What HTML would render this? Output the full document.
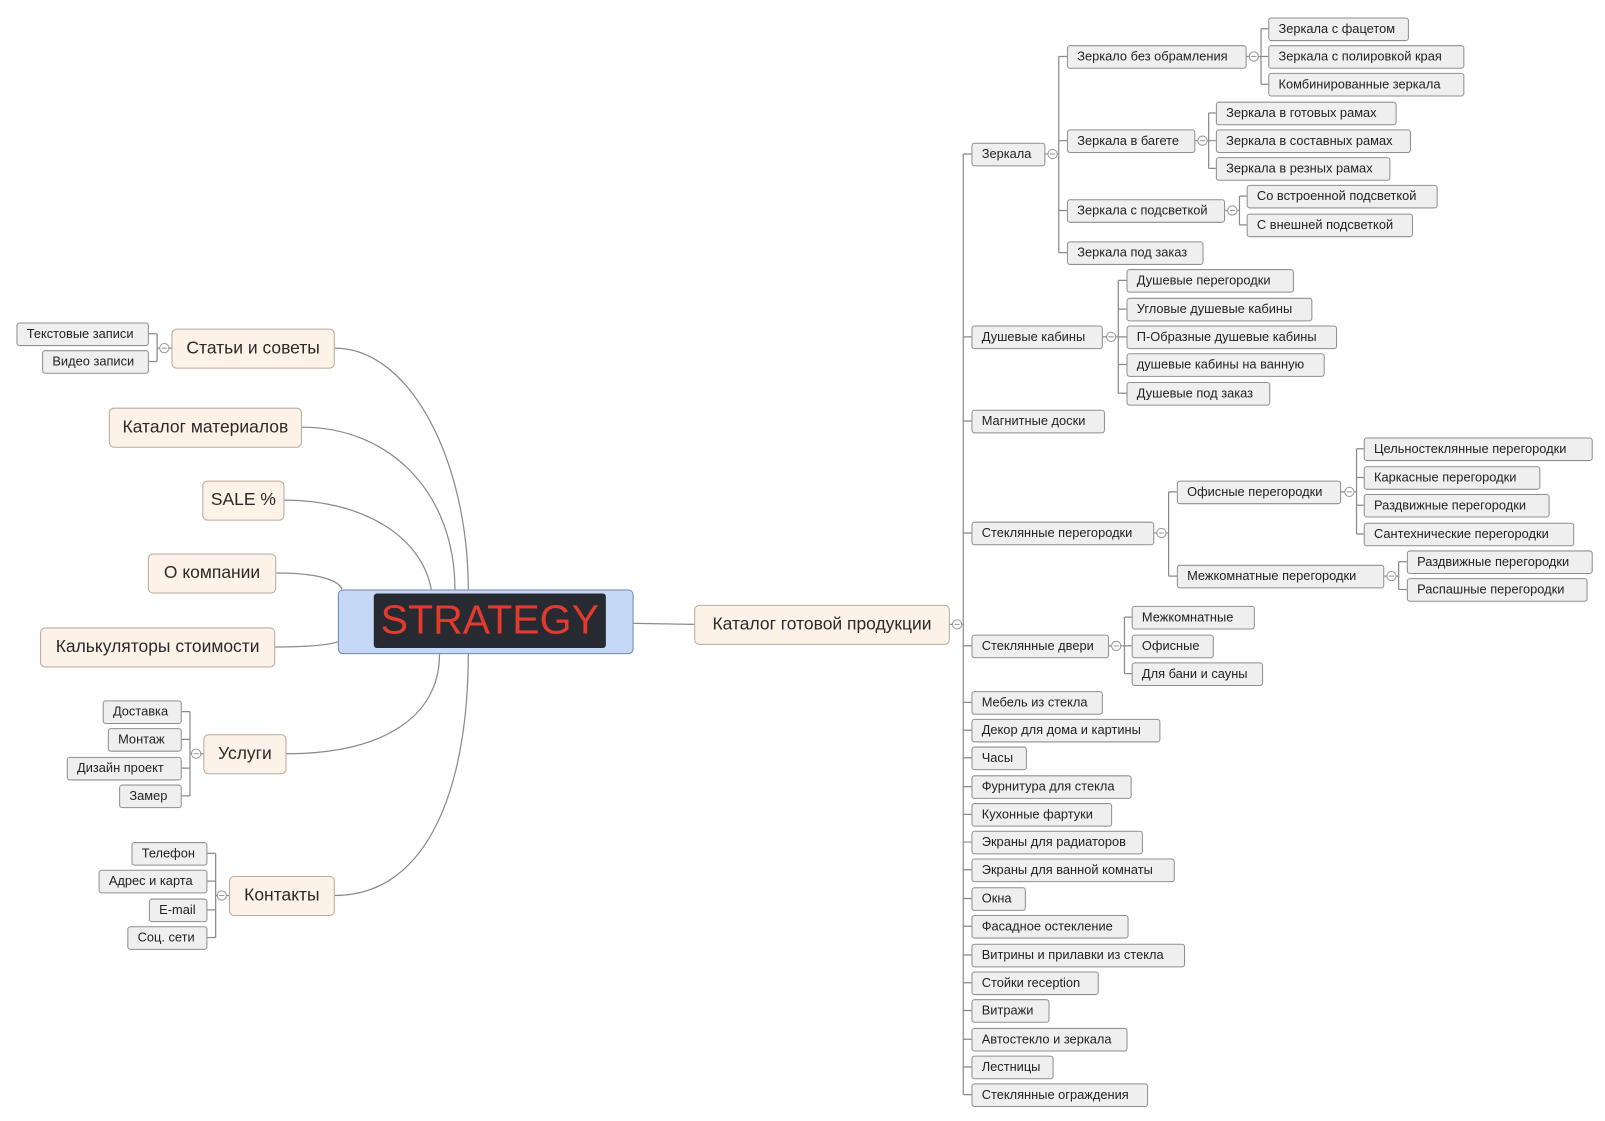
<!DOCTYPE html>
<html><head><meta charset="utf-8"><style>
body{margin:0;width:1605px;height:1121px;background:#fff;position:relative;overflow:hidden;font-family:"Liberation Sans",sans-serif}
#w{position:absolute;left:0;top:0;width:1563px;height:1092px;transform:scale(1.0269);transform-origin:0 0}
.n{position:absolute;height:23px;line-height:21px;box-sizing:border-box;border:1px solid #8f8f8f;border-radius:3px;background:#efefef;font-size:12.5px;padding-left:9px;white-space:nowrap;color:#222}
.m{position:absolute;box-sizing:border-box;background:#fdf2e8;border:1px solid #b9aa9b;border-radius:5px;font-size:17px;text-align:center;line-height:36px;height:39px;color:#2a2a2a;white-space:nowrap}
svg{position:absolute;left:0;top:0}
</style></head><body><div id="w">
<svg width="1563" height="1092" fill="none" stroke="#8a8a8a" stroke-width="1.2">
<path d="M326 339 C400 339 456 450 456 574"/>
<path d="M294 416 C380 416 443 480 443 574"/>
<path d="M277 487 C350 487 410 520 420 574"/>
<path d="M269 558 C310 558 330 565 333 574"/>
<path d="M268 630 C300 630 320 628 329 625"/>
<path d="M279 734 C370 734 428 700 428 637"/>
<path d="M326 872 C420 872 456 760 456 637"/>
<path d="M617 607 L676 608"/>
<path d="M925 608 H938 M938 150 V1066"/>
<path d="M938 150H946M938 328H946M938 410H946M938 519H946M938 629H946M938 684H946M938 711H946M938 738H946M938 766H946M938 793H946M938 820H946M938 847H946M938 875H946M938 902H946M938 930H946M938 957H946M938 984H946M938 1012H946M938 1039H946M938 1066H946"/>
<path d="M1018 150H1031M1031 55V246M1031 55H1039M1031 137H1039M1031 205H1039M1031 246H1039"/>
<path d="M1214 55H1228M1228 28V82M1228 28H1235M1228 55H1235M1228 82H1235"/>
<path d="M1164 137H1177M1177 110V164M1177 110H1184M1177 137H1184M1177 164H1184"/>
<path d="M1193 205H1207M1207 191V219M1207 191H1214M1207 219H1214"/>
<path d="M1074 328H1089M1089 273V383M1089 273H1097M1089 301H1097M1089 328H1097M1089 355H1097M1089 383H1097"/>
<path d="M1124 519H1138M1138 479V561M1138 479H1146M1138 561H1146"/>
<path d="M1306 479H1321M1321 437V520M1321 437H1328M1321 465H1328M1321 492H1328M1321 520H1328"/>
<path d="M1348 561H1362M1362 547V574M1362 547H1370M1362 574H1370"/>
<path d="M1080 629H1095M1095 601V656M1095 601H1102M1095 629H1102M1095 656H1102"/>
<path d="M167 339H153M153 325V352M153 325H145M153 352H145"/>
<path d="M198 734H185M185 693V775M185 693H177M185 720H177M185 748H177M185 775H177"/>
<path d="M223 872H210M210 831V913M210 831H202M210 858H202M210 886H202M210 913H202"/>
</svg>
<svg width="1563" height="1092" fill="#fff" stroke="#999" stroke-width="1">
<g>
<circle cx="932" cy="608" r="4.5"/><circle cx="1025" cy="150" r="4.5"/><circle cx="1221" cy="55" r="4.5"/><circle cx="1171" cy="137" r="4.5"/><circle cx="1200" cy="205" r="4.5"/><circle cx="1082" cy="328" r="4.5"/><circle cx="1131" cy="519" r="4.5"/><circle cx="1314" cy="479" r="4.5"/><circle cx="1355" cy="561" r="4.5"/><circle cx="1087" cy="629" r="4.5"/><circle cx="160" cy="339" r="4.5"/><circle cx="191" cy="734" r="4.5"/><circle cx="216" cy="872" r="4.5"/>
</g>
<path stroke="#999" d="M929.5 608h5M1022.5 150h5M1218.5 55h5M1168.5 137h5M1197.5 205h5M1079.5 328h5M1128.5 519h5M1311.5 479h5M1352.5 561h5M1084.5 629h5M157.5 339h5M188.5 734h5M213.5 872h5"/>
</svg>

<div style="position:absolute;left:329px;top:574px;width:288px;height:63px;box-sizing:border-box;background:#c5d8f6;border:1px solid #6d86b8;border-radius:5px"></div>
<div style="position:absolute;left:364px;top:578px;width:226px;height:53px;background:#272a31;border-radius:3px;color:#e23b2e;font-size:40px;line-height:53px;text-align:center">STRATEGY</div>

<div class="m" style="left:676px;top:589px;width:249px">Каталог готовой продукции</div>
<div class="m" style="left:167px;top:320px;width:159px">Статьи и советы</div>
<div class="m" style="left:106px;top:397px;width:188px">Каталог материалов</div>
<div class="m" style="left:197px;top:468px;width:80px">SALE %</div>
<div class="m" style="left:144px;top:539px;width:125px">О компании</div>
<div class="m" style="left:39px;top:611px;width:229px">Калькуляторы стоимости</div>
<div class="m" style="left:198px;top:715px;width:81px">Услуги</div>
<div class="m" style="left:223px;top:853px;width:103px">Контакты</div>

<div class="n" style="left:16px;top:314px;width:129px">Текстовые записи</div>
<div class="n" style="left:41px;top:341px;width:104px">Видео записи</div>
<div class="n" style="left:100px;top:682px;width:77px">Доставка</div>
<div class="n" style="left:105px;top:709px;width:72px">Монтаж</div>
<div class="n" style="left:65px;top:737px;width:112px">Дизайн проект</div>
<div class="n" style="left:116px;top:764px;width:61px">Замер</div>
<div class="n" style="left:128px;top:820px;width:74px">Телефон</div>
<div class="n" style="left:96px;top:847px;width:106px">Адрес и карта</div>
<div class="n" style="left:145px;top:875px;width:57px">E-mail</div>
<div class="n" style="left:124px;top:902px;width:78px">Соц. сети</div>

<div class="n" style="left:946px;top:139px;width:72px">Зеркала</div>
<div class="n" style="left:946px;top:317px;width:128px">Душевые кабины</div>
<div class="n" style="left:946px;top:399px;width:130px">Магнитные доски</div>
<div class="n" style="left:946px;top:508px;width:178px">Стеклянные перегородки</div>
<div class="n" style="left:946px;top:618px;width:134px">Стеклянные двери</div>
<div class="n" style="left:946px;top:673px;width:128px">Мебель из стекла</div>
<div class="n" style="left:946px;top:700px;width:184px">Декор для дома и картины</div>
<div class="n" style="left:946px;top:727px;width:54px">Часы</div>
<div class="n" style="left:946px;top:755px;width:156px">Фурнитура для стекла</div>
<div class="n" style="left:946px;top:782px;width:137px">Кухонные фартуки</div>
<div class="n" style="left:946px;top:809px;width:167px">Экраны для радиаторов</div>
<div class="n" style="left:946px;top:836px;width:198px">Экраны для ванной комнаты</div>
<div class="n" style="left:946px;top:864px;width:53px">Окна</div>
<div class="n" style="left:946px;top:891px;width:153px">Фасадное остекление</div>
<div class="n" style="left:946px;top:919px;width:208px">Витрины и прилавки из стекла</div>
<div class="n" style="left:946px;top:946px;width:124px">Стойки reception</div>
<div class="n" style="left:946px;top:973px;width:76px">Витражи</div>
<div class="n" style="left:946px;top:1001px;width:152px">Автостекло и зеркала</div>
<div class="n" style="left:946px;top:1028px;width:80px">Лестницы</div>
<div class="n" style="left:946px;top:1055px;width:172px">Стеклянные ограждения</div>

<div class="n" style="left:1039px;top:44px;width:175px">Зеркало без обрамления</div>
<div class="n" style="left:1039px;top:126px;width:125px">Зеркала в багете</div>
<div class="n" style="left:1039px;top:194px;width:154px">Зеркала с подсветкой</div>
<div class="n" style="left:1039px;top:235px;width:133px">Зеркала под заказ</div>
<div class="n" style="left:1235px;top:17px;width:137px">Зеркала с фацетом</div>
<div class="n" style="left:1235px;top:44px;width:191px">Зеркала с полировкой края</div>
<div class="n" style="left:1235px;top:71px;width:191px">Комбинированные зеркала</div>
<div class="n" style="left:1184px;top:99px;width:176px">Зеркала в готовых рамах</div>
<div class="n" style="left:1184px;top:126px;width:190px">Зеркала в составных рамах</div>
<div class="n" style="left:1184px;top:153px;width:170px">Зеркала в резных рамах</div>
<div class="n" style="left:1214px;top:180px;width:186px">Со встроенной подсветкой</div>
<div class="n" style="left:1214px;top:208px;width:162px">С внешней подсветкой</div>

<div class="n" style="left:1097px;top:262px;width:163px">Душевые перегородки</div>
<div class="n" style="left:1097px;top:290px;width:181px">Угловые душевые кабины</div>
<div class="n" style="left:1097px;top:317px;width:205px">П-Образные душевые кабины</div>
<div class="n" style="left:1097px;top:344px;width:193px">душевые кабины на ванную</div>
<div class="n" style="left:1097px;top:372px;width:140px">Душевые под заказ</div>

<div class="n" style="left:1146px;top:468px;width:160px">Офисные перегородки</div>
<div class="n" style="left:1146px;top:550px;width:202px">Межкомнатные перегородки</div>
<div class="n" style="left:1328px;top:426px;width:223px">Цельностеклянные перегородки</div>
<div class="n" style="left:1328px;top:454px;width:172px">Каркасные перегородки</div>
<div class="n" style="left:1328px;top:481px;width:181px">Раздвижные перегородки</div>
<div class="n" style="left:1328px;top:509px;width:205px">Сантехнические перегородки</div>
<div class="n" style="left:1370px;top:536px;width:181px">Раздвижные перегородки</div>
<div class="n" style="left:1370px;top:563px;width:176px">Распашные перегородки</div>

<div class="n" style="left:1102px;top:590px;width:120px">Межкомнатные</div>
<div class="n" style="left:1102px;top:618px;width:80px">Офисные</div>
<div class="n" style="left:1102px;top:645px;width:128px">Для бани и сауны</div>
</div></body></html>
